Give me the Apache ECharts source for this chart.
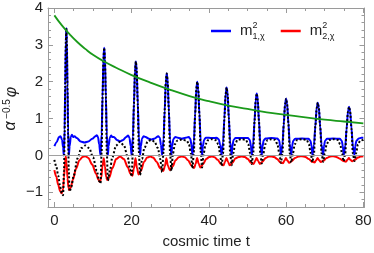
<!DOCTYPE html>
<html><head><meta charset="utf-8">
<script src="https://cdn.jsdelivr.net/npm/echarts@6/dist/echarts.min.js"></script>
<style>html,body{margin:0;padding:0;background:#fff}#c{width:374px;height:253px}</style>
</head><body><div id="c"></div>
<script>
const xTicks = [0, 20, 40, 60, 80];
const xMinorTicks = [5,10,15,25,30,35,45,50,55,65,70,75];
const yTicks = [-1, 0, 1, 2, 3, 4];
const yMinorTicks = [-1.2,-0.8,-0.6,-0.4,-0.2,0.2,0.4,0.6,0.8,1.2,1.4,1.6,1.8,2.2,2.4,2.6,2.8,3.2,3.4,3.6,3.8];

const blueData = [
[0,0.25],[0.6,0.36],[1.2,0.5],[1.6,0.52],[2.0,0.42],[2.25,0.22],[2.45,0],
[2.65,0.69],[2.81,1.9],[2.97,3.1],[3.1,3.45],[3.23,3.1],[3.39,1.9],[3.55,0.69],[3.75,0],
[3.95,0.25],[4.25,0.5],[4.55,0.56],[4.85,0.5],[5.2,0.52],[5.8,0.47],[6.8,0.38],[7.8,0.35],[8.8,0.38],[9.8,0.45],[10.6,0.52],[11.0,0.55],[11.3,0.5],[11.6,0.3],[11.95,0],
[12.24,0.58],[12.47,1.6],[12.71,2.63],[12.9,2.92],[13.09,2.63],[13.33,1.6],[13.57,0.58],[13.85,0],
[14.05,0.25],[14.35,0.48],[14.7,0.54],[15.0,0.5],[15.4,0.5],[16.2,0.42],[17.0,0.38],[17.8,0.42],[18.6,0.5],[19.1,0.54],[19.45,0.48],[19.75,0.25],[20.0,0],
[20.33,0.51],[20.6,1.4],[20.88,2.3],[21.1,2.55],[21.32,2.3],[21.6,1.4],[21.87,0.51],[22.2,0],
[22.4,0.25],[22.7,0.46],[23.1,0.52],[23.6,0.5],[24.5,0.45],[25.2,0.43],[26.0,0.46],[26.9,0.52],[27.3,0.48],[27.6,0.28],[27.9,0],
[28.26,0.44],[28.56,1.22],[28.86,2.0],[29.1,2.22],[29.34,2.0],[29.64,1.22],[29.94,0.44],[30.3,0],
[30.5,0.25],[30.8,0.44],[31.3,0.5],[32.0,0.48],[33.0,0.45],[34.0,0.48],[34.8,0.5],[35.2,0.45],[35.5,0.28],[35.75,0],
[36.13,0.4],[36.44,1.1],[36.75,1.8],[37.0,2.0],[37.25,1.8],[37.56,1.1],[37.87,0.4],[38.25,0],
[38.45,0.25],[38.75,0.42],[39.2,0.48],[40.0,0.48],[41.0,0.47],[42.0,0.48],[42.55,0.44],[42.95,0.28],[43.3,0],
[43.69,0.37],[44.02,1.01],[44.34,1.66],[44.6,1.84],[44.86,1.66],[45.18,1.01],[45.51,0.37],[45.9,0],
[46.1,0.25],[46.4,0.42],[46.9,0.47],[48.5,0.47],[50.1,0.47],[50.6,0.42],[50.9,0.25],[51.1,0],
[51.49,0.34],[51.82,0.92],[52.14,1.51],[52.4,1.68],[52.66,1.51],[52.98,0.92],[53.31,0.34],[53.7,0],
[53.9,0.25],[54.2,0.41],[54.7,0.46],[56.2,0.47],[57.7,0.46],[58.2,0.41],[58.45,0.25],[58.65,0],
[59.06,0.31],[59.39,0.85],[59.73,1.39],[60.0,1.54],[60.27,1.39],[60.61,0.85],[60.94,0.31],[61.35,0],
[61.55,0.25],[61.85,0.4],[62.4,0.45],[64.1,0.46],[65.8,0.45],[66.3,0.4],[66.6,0.25],[66.8,0],
[67.22,0.29],[67.57,0.79],[67.92,1.29],[68.2,1.43],[68.48,1.29],[68.83,0.79],[69.18,0.29],[69.6,0],
[69.8,0.25],[70.1,0.4],[70.6,0.45],[72.2,0.46],[73.9,0.45],[74.4,0.4],[74.7,0.25],[74.9,0],
[75.32,0.26],[75.67,0.73],[76.02,1.19],[76.3,1.32],[76.58,1.19],[76.93,0.73],[77.28,0.26],[77.7,0],
[77.9,0.25],[78.2,0.4],[78.8,0.46],[79.5,0.48],[80,0.48]
];

const redData = [
[0,-0.4],[0.5,-0.58],[1.0,-0.8],[1.5,-0.97],[1.9,-1.03],[2.25,-0.92],[2.5,-0.6],[2.75,-0.2],[2.95,-0.03],[3.15,-0.2],[3.4,-0.62],[3.65,-0.88],[3.85,-0.94],[4.2,-0.88],[4.8,-0.66],[5.6,-0.36],[6.5,-0.13],[7.3,-0.04],[8.0,-0.02],[8.8,-0.07],[9.8,-0.25],[10.8,-0.5],[11.4,-0.66],[11.8,-0.72],[12.15,-0.6],[12.45,-0.3],[12.8,-0.08],[13.1,-0.3],[13.4,-0.58],[13.7,-0.67],[14.2,-0.6],[15.0,-0.35],[16.0,-0.1],[17.0,-0.03],[18.0,-0.1],[19.0,-0.32],[19.7,-0.5],[20.2,-0.55],[20.6,-0.35],[21.0,-0.08],[21.4,-0.35],[21.8,-0.52],[22.4,-0.42],[23.2,-0.18],[24.0,-0.06],[24.8,-0.03],[25.6,-0.06],[26.5,-0.18],[27.4,-0.35],[28.2,-0.42],[28.6,-0.3],[29.0,-0.08],[29.4,-0.28],[29.9,-0.4],[30.6,-0.3],[31.4,-0.13],[32.2,-0.05],[33.0,-0.03],[33.8,-0.05],[34.6,-0.13],[35.5,-0.28],[36.2,-0.34],[36.6,-0.22],[36.95,-0.07],[37.35,-0.22],[37.8,-0.33],[38.5,-0.24],[39.3,-0.1],[40.1,-0.04],[40.8,-0.03],[41.5,-0.05],[42.3,-0.12],[43.1,-0.23],[43.8,-0.27],[44.2,-0.17],[44.55,-0.07],[44.95,-0.17],[45.4,-0.27],[46.1,-0.2],[46.9,-0.08],[47.7,-0.04],[48.5,-0.03],[49.3,-0.04],[50.1,-0.1],[50.9,-0.2],[51.6,-0.23],[52.0,-0.15],[52.35,-0.07],[52.75,-0.15],[53.2,-0.23],[53.9,-0.17],[54.7,-0.07],[55.5,-0.03],[56.2,-0.03],[56.9,-0.04],[57.7,-0.1],[58.5,-0.19],[59.2,-0.21],[59.6,-0.14],[59.95,-0.07],[60.35,-0.14],[60.8,-0.2],[61.5,-0.15],[62.3,-0.07],[63.2,-0.03],[64.1,-0.02],[65.0,-0.04],[65.9,-0.1],[66.7,-0.17],[67.4,-0.19],[67.8,-0.13],[68.15,-0.07],[68.55,-0.13],[69.0,-0.18],[69.7,-0.14],[70.5,-0.07],[71.4,-0.03],[72.2,-0.02],[73.0,-0.04],[73.9,-0.09],[74.8,-0.15],[75.5,-0.17],[75.9,-0.12],[76.25,-0.07],[76.65,-0.12],[77.1,-0.16],[77.8,-0.12],[78.6,-0.06],[79.3,-0.03],[80,-0.02]
];

const blackData = [
[0,-0.12],[0.5,-0.3],[1.0,-0.55],[1.5,-0.85],[1.9,-1.02],[2.25,-1.08],[2.5,-0.4],[2.65,0.6],[2.81,1.9],[2.97,3.1],[3.1,3.45],[3.23,3.1],[3.39,1.9],[3.55,0.6],[3.72,-0.4],[3.95,-0.98],
[4.4,-0.85],[5.0,-0.55],[6.0,-0.08],[7.0,0.2],[8.0,0.27],[9.0,0.2],[10.0,-0.05],[11.0,-0.42],[11.6,-0.7],[11.95,-0.76],
[12.24,0.1],[12.47,1.6],[12.71,2.63],[12.9,2.92],[13.09,2.63],[13.33,1.6],[13.57,0.1],[13.85,-0.68],
[14.4,-0.4],[15.0,-0.05],[16.0,0.27],[17.0,0.37],[18.0,0.27],[19.0,-0.05],[19.6,-0.38],[20.0,-0.57],
[20.33,0.1],[20.6,1.4],[20.88,2.3],[21.1,2.55],[21.32,2.3],[21.6,1.4],[21.87,0.1],[22.2,-0.53],
[22.7,-0.1],[23.3,0.2],[24.2,0.38],[25.0,0.42],[25.9,0.38],[26.8,0.2],[27.4,-0.1],[27.9,-0.45],
[28.26,0.1],[28.56,1.22],[28.86,2.0],[29.1,2.22],[29.34,2.0],[29.64,1.22],[29.94,0.1],[30.3,-0.42],
[30.7,0.05],[31.2,0.3],[31.8,0.4],[33.0,0.43],[34.3,0.4],[34.85,0.3],[35.35,0.05],[35.75,-0.35],
[36.13,0.1],[36.44,1.1],[36.75,1.8],[37.0,2.0],[37.25,1.8],[37.56,1.1],[37.87,0.1],[38.25,-0.33],
[38.65,0.05],[39.15,0.3],[39.75,0.41],[40.8,0.44],[41.85,0.41],[42.45,0.3],[42.9,0.05],[43.3,-0.28],
[43.69,0.05],[44.02,1.01],[44.34,1.66],[44.6,1.84],[44.86,1.66],[45.18,1.01],[45.51,0.05],[45.9,-0.27],
[46.3,0.05],[46.8,0.3],[47.4,0.42],[48.5,0.44],[49.6,0.42],[50.2,0.3],[50.7,0.05],[51.1,-0.23],
[51.49,0.05],[51.82,0.92],[52.14,1.51],[52.4,1.68],[52.66,1.51],[52.98,0.92],[53.31,0.05],[53.7,-0.22],
[54.1,0.05],[54.6,0.3],[55.2,0.42],[56.2,0.44],[57.2,0.42],[57.75,0.3],[58.25,0.05],[58.65,-0.2],
[59.06,0.05],[59.39,0.85],[59.73,1.39],[60.0,1.54],[60.27,1.39],[60.61,0.85],[60.94,0.05],[61.35,-0.19],
[61.75,0.05],[62.25,0.3],[62.85,0.42],[64.1,0.44],[65.35,0.42],[65.9,0.3],[66.4,0.05],[66.8,-0.18],
[67.22,0.05],[67.57,0.79],[67.92,1.29],[68.2,1.43],[68.48,1.29],[68.83,0.79],[69.18,0.05],[69.6,-0.17],
[70.0,0.05],[70.5,0.3],[71.1,0.42],[72.25,0.44],[73.4,0.42],[74.0,0.3],[74.5,0.05],[74.9,-0.16],
[75.32,0.05],[75.67,0.73],[76.02,1.19],[76.3,1.32],[76.58,1.19],[76.93,0.73],[77.28,0.05],[77.7,-0.15],
[78.1,0.05],[78.6,0.3],[79.2,0.4],[80,0.43]
];

const greenData = [
[0,3.8],[2,3.52],[4,3.28],[6,3.07],[8,2.89],[10,2.73],[13,2.54],[16,2.38],[20,2.18],[25,1.97],[30,1.78],[35,1.61],[40,1.47],[45,1.35],[50,1.26],[55,1.17],[60,1.1],[65,1.03],[70,0.97],[75,0.92],[80,0.87]
];

const X_MIN = -1.65, X_MAX = 80.3, Y_MIN = -1.4, Y_MAX = 4;
const FRAME = '#9a9a9a';
const FONT = 'Liberation Sans';

function xAx(pos, vals, len, labels, line) {
  return {
    type: 'value', position: pos, min: X_MIN, max: X_MAX,
    splitLine: {show: false},
    axisLine: {show: line, onZero: false, lineStyle: {color: FRAME, width: 1}},
    axisTick: {show: true, inside: true, length: len, customValues: vals, lineStyle: {color: FRAME}},
    axisLabel: labels ? {show: true, customValues: vals, margin: 6, color: '#222', fontSize: 15, fontFamily: FONT,
      formatter: v => String(v)} : {show: false}
  };
}
function yAx(pos, vals, len, labels, line) {
  return {
    type: 'value', position: pos, min: Y_MIN, max: Y_MAX,
    splitLine: {show: false},
    axisLine: {show: line, onZero: false, lineStyle: {color: FRAME, width: 1}},
    axisTick: {show: true, inside: true, length: len, customValues: vals, lineStyle: {color: FRAME}},
    axisLabel: labels ? {show: true, customValues: vals, margin: 5, color: '#222', fontSize: 15, fontFamily: FONT,
      formatter: v => String(v).replace('-', '\u2212')} : {show: false}
  };
}

const xAxes = [xAx('bottom', xTicks, 5, true, true), xAx('bottom', xMinorTicks, 3, false, false),
               xAx('top', xTicks, 5, false, true), xAx('top', xMinorTicks, 3, false, false)];
Object.assign(xAxes[0], {name: 'cosmic time t', nameLocation: 'middle', nameGap: 27,
  nameTextStyle: {fontSize: 15, fontFamily: FONT, color: '#222'}});
const yAxes = [yAx('left', yTicks, 5, true, true), yAx('left', yMinorTicks, 3, false, false),
               yAx('right', yTicks, 5, false, true), yAx('right', yMinorTicks, 3, false, false)];

function rotText(text, x, y, size, italic) {
  return {type: 'text', x: x, y: y, rotation: Math.PI / 2, silent: true,
    style: {text: text, x: 0, y: 0, align: 'center', verticalAlign: 'middle', fill: '#222',
      font: (italic ? 'italic ' : '') + size + 'px "' + FONT + '"'}};
}

const legendRich = {
  m: {fontSize: 15, fontFamily: FONT, color: '#222', lineHeight: 24, verticalAlign: 'middle', padding: [0, 0, 0, 4]},
  s: {fontSize: 9, fontFamily: FONT, color: '#222', lineHeight: 10, verticalAlign: 'top', width: 0, padding: [2, 0, 0, 0]},
  b: {fontSize: 9, fontFamily: FONT, color: '#222', lineHeight: 10, verticalAlign: 'bottom', padding: [0, 0, 2, 0]}
};

const chart = echarts.init(document.getElementById('c'), null, {renderer: 'canvas'});
chart.setOption({
  animation: false,
  backgroundColor: '#fff',
  grid: {left: 48, right: 9.5, top: 8, bottom: 46, containLabel: false, outerBoundsMode: 'none'},
  xAxis: xAxes,
  yAxis: yAxes,
  graphic: [
    rotText('\u03b1', 11, 126, 16, true),
    rotText('\u22120.5', 7, 109, 10, false),
    rotText('\u03c6', 12, 92, 16, true)
  ],
  legend: {
    left: 206, top: 14, itemWidth: 20, itemHeight: 2.5, itemGap: 16, icon: 'rect',
    data: ['m1', 'm2'],
    formatter: n => n === 'm1' ? '{m|m}{s|2}{b|1,\u03c7}' : '{m|m}{s|2}{b|2,\u03c7}',
    textStyle: {rich: legendRich}
  },
  series: [
    {name: 'm1', type: 'line', data: blueData, showSymbol: false, smooth: 0.3, smoothMonotone: 'x',
     lineStyle: {color: '#0000ff', width: 2}, itemStyle: {color: '#0000ff'},
     markLine: {silent: true, symbol: 'none', label: {show: false}, lineStyle: {color: '#a0a0a0', width: 1, type: 'solid'},
       data: [{yAxis: 0}]}},
    {name: 'm2', type: 'line', data: redData, showSymbol: false, smooth: 0.3, smoothMonotone: 'x',
     lineStyle: {color: '#ff0000', width: 2}, itemStyle: {color: '#ff0000'}},
    {name: 'total', type: 'line', data: blackData, showSymbol: false, smooth: 0.3, smoothMonotone: 'x',
     lineStyle: {color: '#000', width: 2, type: [2, 2]}, itemStyle: {color: '#000'}},
    {name: 'envelope', type: 'line', data: greenData, showSymbol: false, smooth: true,
     lineStyle: {color: '#1a9a1a', width: 1.8}, itemStyle: {color: '#1a9a1a'}}
  ]
});
</script>
</body></html>
